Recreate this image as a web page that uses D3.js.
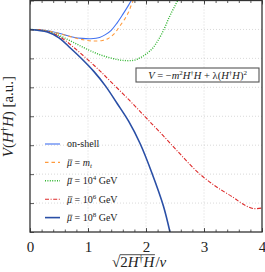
<!DOCTYPE html>
<html>
<head>
<meta charset="utf-8">
<script src="https://cdn.jsdelivr.net/npm/d3@7"></script>
<style>
  body { margin: 0; background: white; }
  svg { display: block; font-family: "Liberation Serif", "DejaVu Serif", serif; }
</style>
</head>
<body>
<div id="chart"></div>
<script>
// values: [sqrt(2H^+H)/v, V]
const onShell = [[0,0],[0.25,-0.03],[0.5,-0.13],[0.75,-0.27],[0.9,-0.31],[1.05,-0.32],[1.2,-0.28],[1.3,-0.18],[1.4,-0.03],[1.5,0.22],[1.6,0.52],[1.7,0.84],[1.76,1.05]];
const muTop = [[0,0],[0.25,-0.03],[0.5,-0.14],[0.75,-0.28],[0.95,-0.37],[1.1,-0.4],[1.25,-0.38],[1.35,-0.31],[1.45,-0.15],[1.55,0.12],[1.64,0.38],[1.7,0.6],[1.75,0.86],[1.79,1.05]];
const mu1e4 = [[0,0],[0.2,-0.03],[0.4,-0.12],[0.6,-0.3],[0.8,-0.5],[1.0,-0.7],[1.2,-0.87],[1.4,-0.99],[1.6,-1.07],[1.8,-1.06],[1.95,-0.92],[2.1,-0.68],[2.2,-0.4],[2.3,-0.04],[2.4,0.42],[2.5,0.82],[2.56,1.05]];
const mu1e6 = [[0,0],[0.2,-0.03],[0.4,-0.14],[0.6,-0.37],[0.8,-0.7],[1.0,-1.05],[1.2,-1.42],[1.4,-1.82],[1.7,-2.42],[2.0,-3.05],[2.3,-3.68],[2.6,-4.33],[2.9,-4.95],[3.2,-5.42],[3.5,-5.8],[3.7,-6.07],[3.85,-6.19],[4.0,-6.17]];
const mu1e8 = [[0,0],[0.3,-0.09],[0.5,-0.29],[0.7,-0.65],[0.9,-1.03],[1.1,-1.45],[1.3,-1.95],[1.5,-2.55],[1.7,-3.17],[1.9,-3.95],[2.1,-4.95],[2.3,-6.1],[2.43,-7.15]];

const xTicks = [0, 1, 2, 3, 4];
const xMinorTicks = d3.range(0, 4.001, 0.2);
const yTicks = [-7, -6, -5, -4, -3, -2, -1, 0, 1];

const WIDTH = 265, HEIGHT = 272;
const MARGIN = { left: 30, right: 3, top: 0.5, bottom: 40 };
const innerW = WIDTH - MARGIN.left - MARGIN.right;
const innerH = HEIGHT - MARGIN.top - MARGIN.bottom;

const series = [
    { data: onShell, color: "#4272f0", width: 1.1, dash: null, label: "on-shell" },
    { data: muTop, color: "#ff9a3c", width: 1.1, dash: "3.5,3", label: "mt" },
    { data: mu1e4, color: "#2fb52f", width: 1.4, dash: "1,1.4", label: "4" },
    { data: mu1e6, color: "#dd2a2a", width: 1.1, dash: "4,1.6,1,1.6", label: "6" },
    { data: mu1e8, color: "#2a4fa6", width: 1.6, dash: null, label: "8" }
];

const svg = d3.select("#chart").append("svg")
    .attr("width", WIDTH)
    .attr("height", HEIGHT);

const g = svg.append("g")
    .attr("transform", `translate(${MARGIN.left}, ${MARGIN.top})`);

const x = d3.scaleLinear().domain([0, 4]).range([0, innerW]);
const y = d3.scaleLinear().domain([-7, 1]).range([innerH, 0]);

// dotted grid
g.append("g").selectAll("line")
    .data(yTicks.filter(d => d > -7 && d < 1))
    .join("line")
    .attr("x1", 0).attr("x2", innerW)
    .attr("y1", d => y(d)).attr("y2", d => y(d))
    .attr("stroke", "#cfcfcf").attr("stroke-width", 0.8)
    .attr("stroke-dasharray", "1,2");

g.append("g").selectAll("line")
    .data([1, 2, 3])
    .join("line")
    .attr("x1", d => x(d)).attr("x2", d => x(d))
    .attr("y1", 0).attr("y2", innerH)
    .attr("stroke", "#cfcfcf").attr("stroke-width", 0.8)
    .attr("stroke-dasharray", "1,2");

// curves
svg.append("defs").append("clipPath").attr("id", "clip")
    .append("rect").attr("width", innerW).attr("height", innerH);

const line = d3.line()
    .x(d => x(d[0]))
    .y(d => y(d[1]))
    .curve(d3.curveCatmullRom.alpha(0.5));

const plot = g.append("g").attr("clip-path", "url(#clip)");
series.forEach(s => {
    plot.append("path")
        .attr("d", line(s.data))
        .attr("fill", "none")
        .attr("stroke", s.color)
        .attr("stroke-width", s.width)
        .attr("stroke-dasharray", s.dash);
});

// axes with inward ticks
const xAxisBottom = d3.axisBottom(x).tickValues(xMinorTicks).tickSize(-2.5).tickFormat("");
const xAxisBottomMajor = d3.axisBottom(x).tickValues(xTicks).tickSize(-4).tickPadding(9).tickFormat(d3.format("d"));
const xAxisTop = d3.axisTop(x).tickValues(xMinorTicks).tickSize(-2.5).tickFormat("");
const xAxisTopMajor = d3.axisTop(x).tickValues(xTicks).tickSize(-4).tickFormat("");
const yAxis = d3.axisLeft(y).tickValues(yTicks).tickSize(-4).tickFormat("");

[
    [xAxisBottom, innerH], [xAxisBottomMajor, innerH], [xAxisTop, 0], [xAxisTopMajor, 0]
].forEach(([ax, ty]) => {
    g.append("g").attr("transform", `translate(0, ${ty})`).call(ax)
        .call(a => a.select(".domain").remove());
});
g.append("g").call(yAxis).call(a => a.select(".domain").remove());

g.selectAll(".tick line").attr("stroke", "#333").attr("stroke-width", 0.8);
g.selectAll(".tick text")
    .attr("font-family", "Liberation Serif, serif")
    .attr("font-size", 15)
    .attr("fill", "#222");

// frame
g.append("rect")
    .attr("width", innerW).attr("height", innerH)
    .attr("fill", "none").attr("stroke", "#333").attr("stroke-width", 1.3);

// bar over the first glyph of a text element
const addMacron = (parent, textSel, fontSize) => {
    const node = textSel.node();
    const p0 = node.getStartPositionOfChar(0);
    const p1 = node.getEndPositionOfChar(0);
    const yy = p0.y - fontSize * 0.58;
    parent.append("line")
        .attr("x1", p0.x + 1).attr("x2", p1.x + 0.5)
        .attr("y1", yy).attr("y2", yy)
        .attr("stroke", "#222").attr("stroke-width", 0.7);
};

// legend
const legend = g.append("g");
const LEGEND_FONT = 10;
series.forEach((s, i) => {
    const ly = 143.5 + i * 18.4;
    legend.append("line")
        .attr("x1", 15).attr("x2", 30)
        .attr("y1", ly).attr("y2", ly)
        .attr("stroke", s.color)
        .attr("stroke-width", s.width)
        .attr("stroke-dasharray", s.dash);
    const t = legend.append("text")
        .attr("x", 37).attr("y", ly + 3.4)
        .attr("font-size", LEGEND_FONT)
        .attr("fill", "#222");
    if (s.label === "on-shell") {
        t.text("on-shell");
    } else {
        t.append("tspan").attr("font-style", "italic").text("\u03bc");
        t.append("tspan").text(" = ");
        if (s.label === "mt") {
            t.append("tspan").attr("font-style", "italic").text("m");
            t.append("tspan").attr("font-style", "italic").attr("font-size", 7).attr("dy", 2).text("t");
        } else {
            t.append("tspan").text("10");
            t.append("tspan").attr("font-size", 7).attr("dy", -4).text(s.label);
            t.append("tspan").attr("dy", 4).text(" GeV");
        }
        addMacron(legend, t, LEGEND_FONT);
    }
});

// annotation box
const note = g.append("g").attr("transform", "translate(106, 67.5)");
note.append("rect")
    .attr("width", 123).attr("height", 14)
    .attr("fill", "white").attr("stroke", "#555").attr("stroke-width", 1.1);
const nt = note.append("text")
    .attr("x", 61.5).attr("y", 10.5)
    .attr("text-anchor", "middle")
    .attr("font-size", 10.5)
    .attr("fill", "#222");
nt.append("tspan").attr("font-style", "italic").text("V");
nt.append("tspan").text(" = \u2212");
nt.append("tspan").attr("font-style", "italic").text("m");
nt.append("tspan").attr("font-size", 7).attr("dy", -4).text("2");
nt.append("tspan").attr("dy", 4).attr("font-style", "italic").text("H");
nt.append("tspan").attr("font-size", 7).attr("dy", -4).text("\u2020");
nt.append("tspan").attr("dy", 4).attr("font-style", "italic").text("H");
nt.append("tspan").text(" + \u03bb(");
nt.append("tspan").attr("font-style", "italic").text("H");
nt.append("tspan").attr("font-size", 7).attr("dy", -4).text("\u2020");
nt.append("tspan").attr("dy", 4).attr("font-style", "italic").text("H");
nt.append("tspan").text(")");
nt.append("tspan").attr("font-size", 7).attr("dy", -4).text("2");

// y label
const yl = svg.append("text")
    .attr("transform", `translate(13, ${MARGIN.top + 116}) rotate(-90)`)
    .attr("text-anchor", "middle")
    .attr("font-size", 15)
    .attr("fill", "#222");
yl.append("tspan").attr("font-style", "italic").text("V");
yl.append("tspan").text("(");
yl.append("tspan").attr("font-style", "italic").text("H");
yl.append("tspan").attr("font-size", 10).attr("dy", -5).text("\u2020");
yl.append("tspan").attr("dy", 5).attr("font-style", "italic").text("H");
yl.append("tspan").text(") [a.u.]");

// x label: sqrt(2H^+H)/v with an overbar
const xl = svg.append("g").attr("transform", "translate(112, 267)");
const sq = xl.append("text").attr("font-size", 15).attr("fill", "#222").text("\u221a");
const sqW = sq.node().getComputedTextLength();
const rad = xl.append("text").attr("x", sqW).attr("font-size", 15).attr("fill", "#222");
rad.append("tspan").text("2");
rad.append("tspan").attr("font-style", "italic").text("H");
rad.append("tspan").attr("font-size", 10).attr("dy", -5).text("\u2020");
rad.append("tspan").attr("dy", 5).attr("font-style", "italic").text("H");
const radW = rad.node().getComputedTextLength();
xl.append("line")
    .attr("x1", sqW - 0.5).attr("x2", sqW + radW + 0.5)
    .attr("y1", -12.3).attr("y2", -12.3)
    .attr("stroke", "#222").attr("stroke-width", 0.8);
const tail = xl.append("text").attr("x", sqW + radW + 1).attr("font-size", 15).attr("fill", "#222");
tail.append("tspan").text("/");
tail.append("tspan").attr("font-style", "italic").text("v");
</script>
</body>
</html>
